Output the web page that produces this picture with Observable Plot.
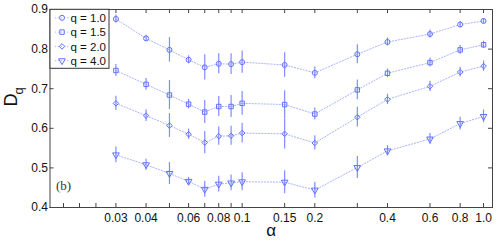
<!DOCTYPE html>
<html>
<head>
<meta charset="utf-8">
<script src="https://cdn.jsdelivr.net/npm/d3@7"></script>
<script src="https://cdn.jsdelivr.net/npm/@observablehq/plot@0.6"></script>
<style>
  html, body { margin: 0; padding: 0; background: #fff; }
  #chart { width: 498px; height: 243px; }
</style>
</head>
<body>
<div id="chart"></div>
<script>
// ---- data ----
const alpha = [0.03, 0.04, 0.05, 0.06, 0.07, 0.08, 0.09, 0.1, 0.15, 0.2, 0.3, 0.4, 0.6, 0.8, 1.0];
const seriesNames = ["q = 1.0", "q = 1.5", "q = 2.0", "q = 4.0"];
const dq10 = [0.876, 0.827, 0.798, 0.773, 0.754, 0.763, 0.762, 0.767, 0.760, 0.740, 0.787, 0.818, 0.838, 0.862, 0.871];
const dq15 = [0.746, 0.711, 0.684, 0.661, 0.641, 0.655, 0.655, 0.663, 0.660, 0.636, 0.697, 0.739, 0.766, 0.798, 0.811];
const dq20 = [0.663, 0.632, 0.607, 0.585, 0.564, 0.580, 0.581, 0.588, 0.586, 0.563, 0.628, 0.673, 0.706, 0.742, 0.757];
const dq40 = [0.533, 0.508, 0.486, 0.466, 0.446, 0.459, 0.462, 0.465, 0.464, 0.444, 0.501, 0.543, 0.573, 0.612, 0.630];
const err10 = [0.010, 0.008, 0.031, 0.010, 0.032, 0.025, 0.026, 0.028, 0.031, 0.015, 0.024, 0.010, 0.010, 0.008, 0.006];
const err15 = [0.015, 0.015, 0.037, 0.012, 0.029, 0.025, 0.028, 0.030, 0.035, 0.015, 0.025, 0.011, 0.011, 0.011, 0.009];
const err20 = [0.018, 0.015, 0.030, 0.013, 0.028, 0.023, 0.024, 0.025, 0.038, 0.018, 0.025, 0.013, 0.013, 0.012, 0.013];
const err40 = [0.020, 0.014, 0.028, 0.010, 0.020, 0.020, 0.020, 0.023, 0.029, 0.020, 0.028, 0.013, 0.014, 0.016, 0.016];
const xTickLabels = [0.03, 0.04, 0.06, 0.08, 0.1, 0.15, 0.2, 0.4, 0.6, 0.8, 1.0];
const xTickText = ["0.03", "0.04", "0.06", "0.08", "0.1", "0.15", "0.2", "0.4", "0.6", "0.8", "1.0"];
const xMinorTicks = [0.0182, 0.0212, 0.0248];
const yTicks = [0.4, 0.5, 0.6, 0.7, 0.8, 0.9];
const yTickText = ["0.4", "0.5", "0.6", "0.7", "0.8", "0.9"];

// ---- style ----
const markColor = "#6070ff";
const barColor = "#7f8dff";
const lineColor = "#a9b3fc";
const axisColor = "#444";

const triDown = {
  draw(context, size) {
    const y = -Math.sqrt(size / (Math.sqrt(3) * 3));
    const s3 = Math.sqrt(3);
    context.moveTo(0, -y * 2);
    context.lineTo(-s3 * y, y);
    context.lineTo(s3 * y, y);
    context.closePath();
  }
};
const symbols = ["circle", "square", "diamond2", triDown];
const values = [dq10, dq15, dq20, dq40];
const errors = [err10, err15, err20, err40];

const rows = [];
seriesNames.forEach((name, i) => {
  alpha.forEach((a, j) => {
    rows.push({series: name, si: i, alpha: a, dq: values[i][j], lo: values[i][j] - errors[i][j], hi: values[i][j] + errors[i][j]});
  });
});

const W = 498, H = 243;
const mL = 49.5, mR = 6, mT = 9, mB = 36;
const frameW = W - mL - mR, frameH = H - mT - mB;
const tickLen = 4;
const allXTicks = [...xMinorTicks, ...alpha];
const markR = 2.5;

const marks = [
  Plot.line(rows, {x: "alpha", y: "dq", z: "series", stroke: lineColor, strokeWidth: 1, strokeDasharray: "1.2,1.8"}),
  Plot.ruleX(rows, {x: "alpha", y1: "lo", y2: "hi", stroke: barColor, strokeWidth: 1.2})
];
symbols.forEach((sym, i) => {
  marks.push(Plot.dot(rows.filter(d => d.si === i), {x: "alpha", y: "dq", symbol: sym, r: markR, stroke: markColor, strokeWidth: 1, fill: "none"}));
});
marks.push(
  Plot.tickX(allXTicks, {x: d => d, insetTop: frameH - tickLen, stroke: axisColor, strokeWidth: 1}),
  Plot.tickX(allXTicks, {x: d => d, insetBottom: frameH - tickLen, stroke: axisColor, strokeWidth: 1}),
  Plot.tickY(yTicks, {y: d => d, insetRight: frameW - tickLen, stroke: axisColor, strokeWidth: 1}),
  Plot.tickY(yTicks, {y: d => d, insetLeft: frameW - tickLen, stroke: axisColor, strokeWidth: 1}),
  Plot.frame({stroke: axisColor, strokeWidth: 1}),
  Plot.text(xTickLabels, {x: d => d, text: (d, i) => xTickText[i], frameAnchor: "bottom", lineAnchor: "top", dy: 6, fontSize: 12, fill: "#111"}),
  Plot.text(yTicks, {y: d => d, text: (d, i) => yTickText[i], frameAnchor: "left", textAnchor: "end", dx: -2, fontSize: 12, fill: "#111"}),
  Plot.text(["α"], {frameAnchor: "bottom", lineAnchor: "top", dy: 16, fontSize: 17, fill: "#111", text: d => d}),
  Plot.text(["D"], {frameAnchor: "left", rotate: -90, dx: -39, dy: -2, fontSize: 18, fill: "#111", text: d => d}),
  Plot.text(["q"], {frameAnchor: "left", rotate: -90, dx: -31, dy: -14, fontSize: 13, fill: "#111", text: d => d}),
  Plot.text(["(b)"], {frameAnchor: "bottom-left", textAnchor: "start", dx: 6, dy: -18, fontSize: 13, fontFamily: "Liberation Serif", fill: "#333", text: d => d})
);

const plot = Plot.plot({
  width: W,
  height: H,
  marginLeft: mL,
  marginRight: mR,
  marginTop: mT,
  marginBottom: mB,
  x: {type: "log", domain: [0.016, 1.089], axis: null},
  y: {domain: [0.4, 0.9], axis: null},
  style: {fontFamily: "Liberation Sans, Arial, sans-serif", fontSize: "12px", background: "white", overflow: "visible"},
  marks
});

// ---- legend (inside top-left of frame) ----
const svg = d3.select(plot);
const lg = svg.append("g")
  .attr("font-family", "Liberation Sans, Arial, sans-serif")
  .attr("font-size", 11.5)
  .attr("text-anchor", "start");
const bx = mL + 0.5, by = mT + 0.3;
lg.append("rect").attr("x", bx).attr("y", by).attr("width", 59).attr("height", 59)
  .attr("fill", "white").attr("stroke", "#333").attr("stroke-width", 1);
const symMap = {circle: d3.symbolCircle, square: d3.symbolSquare, diamond2: d3.symbolDiamond2};
seriesNames.forEach((name, i) => {
  const yy = by + 8.5 + i * 14.3;
  lg.append("line").attr("x1", bx + 5).attr("x2", bx + 19).attr("y1", yy).attr("y2", yy)
    .attr("stroke", lineColor).attr("stroke-dasharray", "1.2,1.8");
  const sym = typeof symbols[i] === "string" ? symMap[symbols[i]] : symbols[i];
  lg.append("path").attr("d", d3.symbol(sym, Math.PI * markR * markR)())
    .attr("transform", `translate(${bx + 12},${yy})`)
    .attr("fill", "none").attr("stroke", markColor);
  lg.append("text").attr("x", bx + 20.5).attr("y", yy + 4.2).attr("text-anchor", "start").attr("fill", "#111").text(name);
});

document.getElementById("chart").appendChild(plot);
</script>
</body>
</html>
